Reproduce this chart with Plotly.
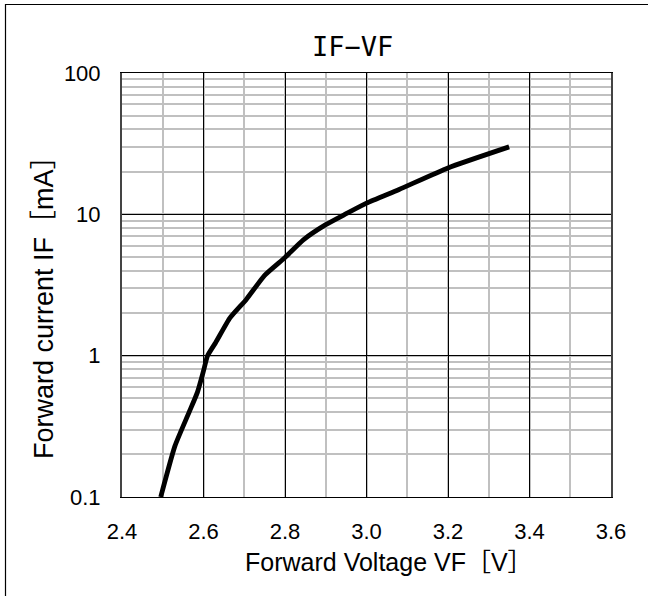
import plotly.graph_objects as go

# Data
vf = [2.495, 2.53, 2.565, 2.585, 2.600, 2.610, 2.630, 2.665, 2.705, 2.75, 2.80, 2.845, 2.90, 2.95, 3.00, 3.08, 3.20, 3.35]
if_ma = [0.1, 0.23, 0.40, 0.55, 0.78, 1.0, 1.24, 1.85, 2.5, 3.7, 4.95, 6.6, 8.45, 10.1, 12.0, 15.0, 21.3, 30.0]

x_ticks = [2.4, 2.6, 2.8, 3.0, 3.2, 3.4, 3.6]
x_ticktext = ["2.4", "2.6", "2.8", "3.0", "3.2", "3.4", "3.6"]
y_ticks = [0.1, 1, 10, 100]
y_ticktext = ["0.1", "1", "10", "100"]

title_text = "IF\u2212VF"
x_title = "Forward Voltage VF\uff3bV\uff3d"
y_title = "Forward current IF\uff3bmA\uff3d"

FONT = "Liberation Sans, Arial, Noto Sans CJK JP"

W, H = 648, 596
L, T = 122, 73
R = W - 611
B = H - 497
PW = W - L - R
PH = H - T - B


def px(xabs):
    return (xabs - L) / PW


def py(yabs):
    return (H - B - yabs) / PH


fig = go.Figure()
fig.add_trace(go.Scatter(
    x=vf, y=if_ma, mode="lines",
    line=dict(color="black", width=4.8, shape="spline", smoothing=0.5),
    showlegend=False, hoverinfo="skip",
))

fig.update_layout(
    width=W, height=H,
    margin=dict(l=L, r=R, t=T, b=B),
    paper_bgcolor="white", plot_bgcolor="white",
    font=dict(family=FONT, color="black", size=22),
    showlegend=False,
)

fig.update_xaxes(
    range=[2.4, 3.6],
    tickvals=x_ticks, ticktext=x_ticktext,
    showgrid=True, gridcolor="black", gridwidth=1,
    minor=dict(dtick=0.1, tick0=2.4, showgrid=True, gridcolor="#c0c0c0", gridwidth=1.5),
    showline=True, linecolor="black", linewidth=1.2, mirror=True,
    ticks="outside", ticklen=14, tickcolor="rgba(0,0,0,0)",
    tickfont=dict(size=22, family=FONT),
    zeroline=False,
)
fig.update_yaxes(
    type="log", range=[-1, 2],
    tickvals=y_ticks, ticktext=y_ticktext,
    showgrid=True, gridcolor="black", gridwidth=1,
    minor=dict(dtick="D1", showgrid=True, gridcolor="#c0c0c0", gridwidth=1.5),
    showline=True, linecolor="#444444", linewidth=2, mirror=True,
    ticks="outside", ticklen=15, tickcolor="rgba(0,0,0,0)",
    tickfont=dict(size=22, family=FONT),
    zeroline=False,
)

# Title and axis titles
fig.add_annotation(text=title_text, xref="paper", yref="paper",
                   x=px(352), y=py(47),
                   xanchor="center", yanchor="middle", showarrow=False,
                   font=dict(family="DejaVu Sans Mono", size=27, color="black"))
fig.add_annotation(text=x_title, xref="paper", yref="paper",
                   x=px(389), y=py(562),
                   xanchor="center", yanchor="middle", showarrow=False,
                   font=dict(family=FONT, size=25, color="black"))
fig.add_annotation(text=y_title, xref="paper", yref="paper",
                   x=px(44), y=py(301), textangle=-90,
                   xanchor="center", yanchor="middle", showarrow=False,
                   font=dict(family=FONT, size=27, color="black"))

# Outer frame: only its left and top edges fall inside the window
fig.add_shape(type="rect", xref="paper", yref="paper",
              x0=px(5.5), x1=px(760), y0=py(720), y1=py(4.5),
              line=dict(color="black", width=1.2), layer="below")

fig.write_html(
    "out.html",
    config={"displayModeBar": False},
    post_script="document.body.style.margin='0';document.body.style.overflow='hidden';",
)
